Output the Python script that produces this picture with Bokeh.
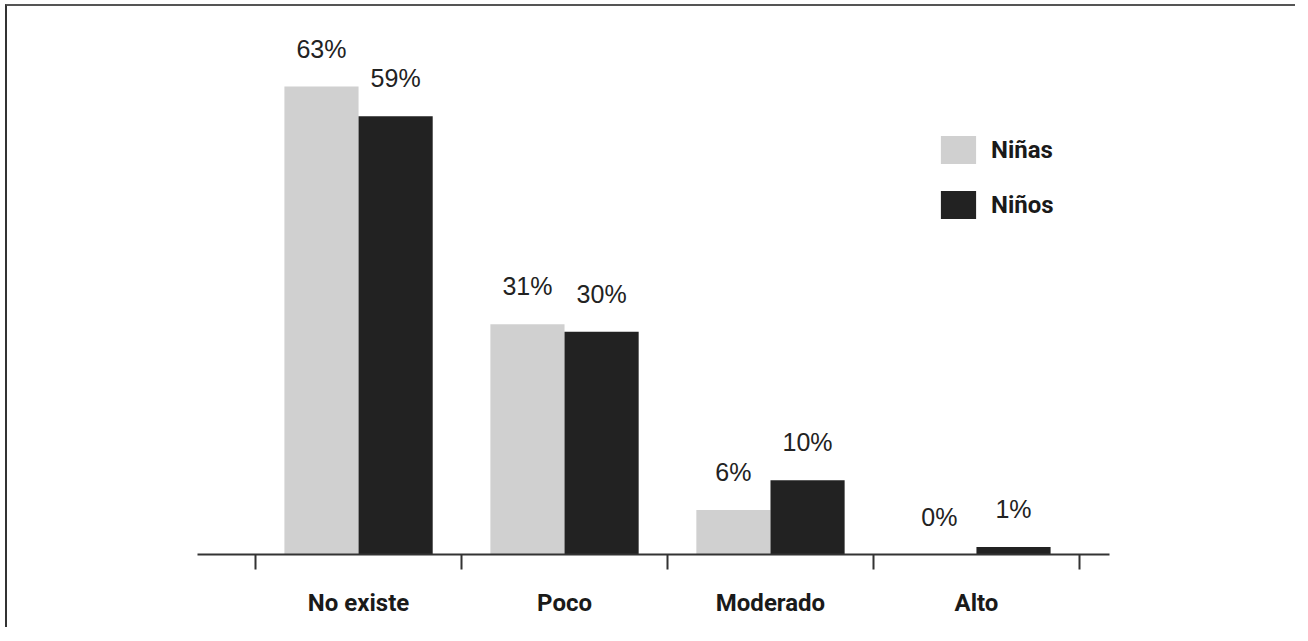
from bokeh.plotting import figure
from bokeh.models import ColumnDataSource, FixedTicker, Range1d, Legend, LegendItem
from bokeh.core.properties import value
from bokeh.transform import dodge
from bokeh.embed import file_html
from bokeh.resources import INLINE

categories = ["No existe", "Poco", "Moderado", "Alto"]
series_names = ["Niñas", "Niños"]
ninas = [63, 31, 6, 0]
ninos = [59, 30, 10, 1]
ninas_labels = ["63%", "31%", "6%", "0%"]
ninos_labels = ["59%", "30%", "10%", "1%"]

positions = list(range(1, len(categories) + 1))
boundaries = [p_ - 0.5 for p_ in positions] + [positions[-1] + 0.5]

src = ColumnDataSource(dict(x=positions, ninas=ninas, ninos=ninos,
                            ninas_lbl=ninas_labels, ninos_lbl=ninos_labels))

p = figure(width=1290, height=623, output_backend="svg", toolbar_location=None,
           x_range=Range1d(0.218, 4.646), y_range=Range1d(0, 73.5),
           min_border_left=190, min_border_right=188, min_border_top=2, min_border_bottom=75)
p.styles = {"position": "relative", "left": "5px", "top": "4px",
            "border-top": "2px solid #555555", "border-left": "2px solid #333333"}

p.outline_line_color = None
p.xgrid.visible = False
p.ygrid.visible = False
p.yaxis.visible = False
p.background_fill_color = "white"
p.border_fill_color = "white"

bw = 0.36
r1 = p.vbar(x=dodge("x", -bw / 2, range=p.x_range), top="ninas", width=bw, source=src,
            fill_color="#d0d0d0", line_color=None)
r2 = p.vbar(x=dodge("x", bw / 2, range=p.x_range), top="ninos", width=bw, source=src,
            fill_color="#222222", line_color=None)

lbl_font = value("Liberation Sans")
p.text(x=dodge("x", -bw / 2, range=p.x_range), y="ninas", text="ninas_lbl", source=src,
       text_align="center", text_baseline="middle", y_offset=-38,
       text_font=lbl_font, text_font_size="25px", text_color="#222222")
p.text(x=dodge("x", bw / 2, range=p.x_range), y="ninos", text="ninos_lbl", source=src,
       text_align="center", text_baseline="middle", y_offset=-38,
       text_font=lbl_font, text_font_size="25px", text_color="#222222")

ax = p.xaxis[0]
ax.ticker = FixedTicker(ticks=positions, minor_ticks=boundaries)
ax.major_label_overrides = {pos: cat for pos, cat in zip(positions, categories)}
ax.major_tick_line_color = None
ax.major_tick_out = 0
ax.major_tick_in = 0
ax.minor_tick_out = 15
ax.minor_tick_in = 0
ax.minor_tick_line_color = "#333333"
ax.minor_tick_line_width = 2
ax.axis_line_color = "#333333"
ax.axis_line_width = 2
ax.major_label_standoff = 19
ax.major_label_text_font = "Roboto"
ax.major_label_text_font_style = "bold"
ax.major_label_text_font_size = "24px"
ax.major_label_text_color = "#1a1a1a"

legend = Legend(items=[LegendItem(label=series_names[0], renderers=[r1]),
                       LegendItem(label=series_names[1], renderers=[r2])],
                location=(739, 332), orientation="vertical",
                glyph_width=44, glyph_height=35, label_height=35, spacing=20,
                label_standoff=11, padding=0, margin=0,
                border_line_color=None, background_fill_alpha=0,
                label_text_font="Roboto", label_text_font_style="bold",
                label_text_font_size="24px", label_text_color="#1a1a1a")
p.add_layout(legend)

open("out.html", "w").write(file_html(p, INLINE))
